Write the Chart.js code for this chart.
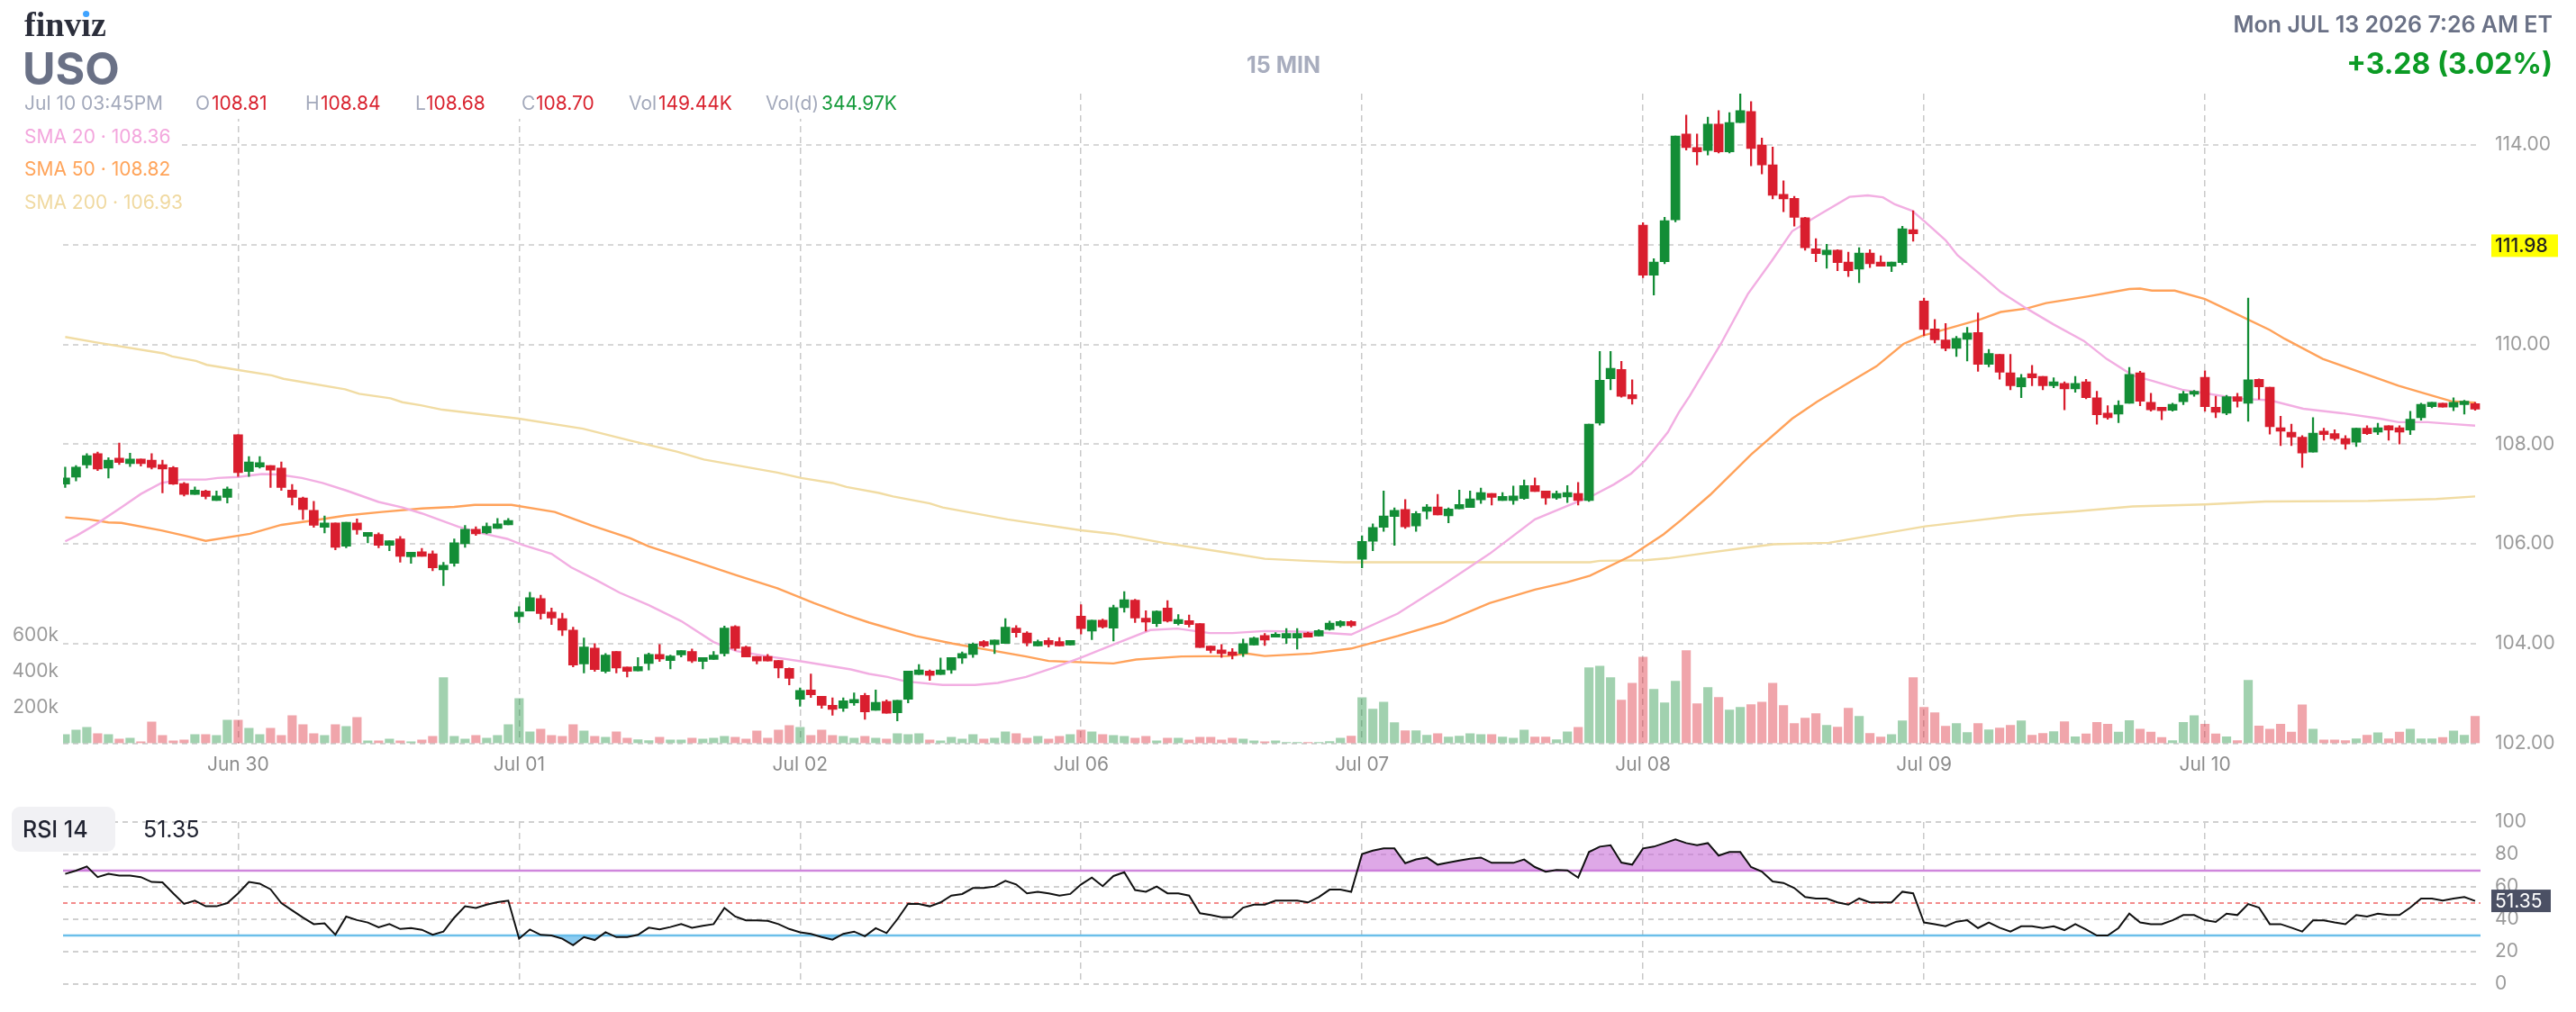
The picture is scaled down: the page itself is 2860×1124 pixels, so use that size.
<!DOCTYPE html>
<html>
<head>
<meta charset="utf-8">
<script src="https://cdn.jsdelivr.net/npm/chart.js@4.4.1/dist/chart.umd.min.js"></script>
<style>
  html, body { margin: 0; padding: 0; background: #fff; }
  #wrap { position: relative; width: 2860px; height: 1124px; overflow: hidden; background: #fff; }
  #main { position: absolute; left: 0; top: 0; }
  #rsi { position: absolute; left: 0; top: 880px; }
</style>
</head>
<body>
<div id="wrap">
  <canvas id="main" width="2860" height="880"></canvas>
  <canvas id="rsi" width="2860" height="244"></canvas>
</div>
<script>
// ============ DATA (15 min bars, USO) ============
const dayIdx    = [16, 42, 68, 94, 120, 146, 172, 198];
const dayLabels = ['Jun 30', 'Jul 01', 'Jul 02', 'Jul 06', 'Jul 07', 'Jul 08', 'Jul 09', 'Jul 10'];

const opens = [
  107.20,107.34,107.58,107.81,107.52,107.72,107.61,107.70,107.68,107.59,
  107.53,107.21,106.99,107.06,106.87,106.93,108.19,107.45,107.54,107.57,
  107.52,107.08,106.92,106.67,106.33,106.42,105.95,106.42,106.15,106.19,
  105.97,106.10,105.74,105.84,105.80,105.48,105.61,106.00,106.29,106.22,
  106.31,106.38,104.54,104.65,104.90,104.63,104.50,104.27,103.59,103.91,
  103.44,103.84,103.53,103.45,103.60,103.78,103.66,103.77,103.84,103.64,
  103.68,103.80,104.34,103.93,103.74,103.74,103.66,103.50,102.88,103.07,
  102.94,102.76,102.70,102.81,102.96,102.66,102.84,102.61,102.88,103.38,
  103.45,103.38,103.47,103.71,103.78,104.04,103.98,104.00,104.31,104.21,
  103.95,104.06,104.04,103.97,104.55,104.25,104.47,104.31,104.72,104.87,
  104.51,104.40,104.71,104.40,104.46,104.40,103.95,103.87,103.83,103.80,
  103.97,104.16,104.13,104.11,104.11,104.21,104.15,104.28,104.36,104.44,
  105.69,106.05,106.33,106.55,106.69,106.36,106.65,106.74,106.56,106.70,
  106.73,106.88,107.01,106.87,106.87,106.91,107.17,107.06,106.92,106.94,
  107.01,106.87,108.42,109.31,109.50,108.99,112.39,111.39,111.66,112.50,
  114.22,113.95,113.89,114.42,113.86,114.45,114.67,114.00,113.60,113.01,
  112.93,112.54,111.92,111.80,111.89,111.65,111.51,111.83,111.65,111.57,
  111.64,112.30,110.87,110.31,110.09,109.92,110.10,110.24,109.60,109.80,
  109.43,109.15,109.41,109.36,109.17,109.22,109.11,109.25,108.93,108.62,
  108.60,108.82,109.43,108.84,108.74,108.68,108.85,109.00,109.34,108.74,
  108.62,108.95,108.82,109.30,109.14,108.33,108.24,108.14,107.84,108.26,
  108.21,108.11,108.04,108.32,108.24,108.37,108.33,108.28,108.53,108.75,
  108.82,108.74,108.79,108.81
];
const highs = [
  107.54,107.57,107.81,107.84,107.73,108.02,107.82,107.70,107.81,107.68,
  107.55,107.23,107.14,107.08,107.06,107.14,108.19,107.75,107.75,107.57,
  107.64,107.19,106.94,106.85,106.56,106.42,106.43,106.50,106.23,106.22,
  106.06,106.15,105.83,105.91,105.86,105.63,106.10,106.37,106.34,106.42,
  106.51,106.51,104.74,105.03,104.97,104.71,104.61,104.33,104.11,104.00,
  103.80,103.84,103.53,103.72,103.81,103.98,103.77,103.86,103.89,103.72,
  103.84,104.35,104.36,103.95,103.74,103.78,103.66,103.51,103.11,103.39,
  102.94,102.91,102.91,103.01,103.00,103.07,102.87,102.86,103.45,103.58,
  103.47,103.71,103.72,103.83,104.01,104.06,104.07,104.50,104.36,104.24,
  104.07,104.11,104.12,104.06,104.78,104.47,104.49,104.77,105.04,104.89,
  104.66,104.66,104.86,104.58,104.57,104.40,103.95,103.98,103.90,104.09,
  104.13,104.20,104.22,104.30,104.30,104.23,104.28,104.45,104.46,104.46,
  106.16,106.40,107.06,106.72,106.89,106.65,106.79,106.99,106.72,107.08,
  107.06,107.12,107.01,107.03,107.16,107.28,107.32,107.06,107.06,107.17,
  107.23,108.40,109.86,109.86,109.66,109.29,112.44,111.72,112.55,114.18,
  114.60,114.22,114.56,114.69,114.65,115.03,114.87,114.14,113.96,113.28,
  112.97,112.55,112.12,112.01,111.90,111.85,111.94,111.90,111.78,111.65,
  112.37,112.68,110.93,110.50,110.42,110.16,110.34,110.63,109.90,109.80,
  109.80,109.40,109.58,109.36,109.33,109.25,109.36,109.30,109.06,108.77,
  108.87,109.54,109.46,109.02,108.74,108.82,109.06,109.08,109.47,108.96,
  108.98,109.02,110.93,109.31,109.14,108.56,108.40,108.17,108.53,108.32,
  108.29,108.17,108.32,108.37,108.42,108.37,108.37,108.66,108.82,108.84,
  108.82,108.93,108.88,108.84
];
const lows = [
  107.13,107.26,107.52,107.47,107.32,107.59,107.55,107.56,107.50,107.02,
  107.19,106.96,106.99,106.90,106.87,106.82,107.35,107.35,107.52,107.13,
  107.07,106.78,106.49,106.33,106.22,105.88,105.92,106.19,106.02,105.92,
  105.86,105.63,105.61,105.75,105.46,105.16,105.55,105.93,106.17,106.20,
  106.31,106.38,104.42,104.65,104.49,104.38,104.16,103.53,103.41,103.44,
  103.41,103.41,103.33,103.45,103.47,103.64,103.49,103.73,103.62,103.49,
  103.68,103.75,103.86,103.73,103.59,103.65,103.31,103.17,102.74,102.92,
  102.70,102.56,102.64,102.76,102.48,102.66,102.60,102.45,102.81,103.38,
  103.26,103.38,103.40,103.60,103.72,103.93,103.80,104.00,104.13,103.95,
  103.95,103.93,103.95,103.97,104.19,104.08,104.31,104.05,104.63,104.42,
  104.25,104.34,104.43,104.37,104.33,103.92,103.81,103.72,103.69,103.74,
  103.97,103.96,104.13,104.00,103.89,104.13,104.15,104.27,104.33,104.33,
  105.52,105.86,106.25,105.97,106.31,106.25,106.50,106.58,106.42,106.70,
  106.73,106.81,106.78,106.87,106.79,106.89,107.05,106.79,106.89,106.83,
  106.78,106.85,108.38,109.09,108.94,108.80,111.34,110.99,111.62,112.46,
  113.90,113.60,113.80,113.84,113.84,114.45,113.58,113.42,112.92,112.66,
  112.37,111.89,111.66,111.53,111.48,111.36,111.24,111.54,111.57,111.46,
  111.60,112.07,110.18,110.03,109.87,109.76,109.67,109.46,109.55,109.30,
  109.09,108.93,109.17,109.09,109.13,108.69,109.04,108.91,108.40,108.50,
  108.43,108.82,108.77,108.66,108.49,108.66,108.79,108.96,108.66,108.53,
  108.59,108.74,108.46,108.90,108.20,107.97,107.97,107.53,107.84,108.08,
  108.08,107.90,107.95,108.19,108.19,108.08,108.00,108.19,108.48,108.73,
  108.74,108.67,108.60,108.68
];
const closes = [
  107.32,107.54,107.77,107.50,107.68,107.63,107.70,107.61,107.53,107.50,
  107.20,106.99,107.08,106.95,106.96,107.10,107.43,107.64,107.63,107.48,
  107.13,106.93,106.69,106.37,106.42,105.93,106.43,106.28,106.23,105.97,
  106.06,105.75,105.83,105.75,105.52,105.57,106.02,106.29,106.20,106.35,
  106.40,106.47,104.63,104.92,104.60,104.51,104.27,103.57,103.93,103.48,
  103.77,103.51,103.44,103.54,103.78,103.69,103.75,103.86,103.65,103.72,
  103.77,104.31,103.90,103.73,103.65,103.65,103.51,103.30,103.06,102.97,
  102.76,102.68,102.85,102.88,102.63,102.82,102.60,102.86,103.45,103.47,
  103.36,103.47,103.72,103.80,103.99,103.95,104.07,104.33,104.22,104.01,
  104.04,103.98,103.95,104.06,104.30,104.47,104.33,104.72,104.88,104.51,
  104.43,104.65,104.45,104.48,104.38,103.92,103.86,103.80,103.76,104.00,
  104.11,104.07,104.19,104.20,104.20,104.13,104.26,104.41,104.44,104.36,
  106.05,106.33,106.56,106.67,106.34,106.61,106.74,106.58,106.70,106.79,
  106.90,107.03,106.93,106.95,106.96,107.17,107.05,106.92,107.01,107.03,
  106.87,108.40,109.28,109.52,108.96,108.91,111.39,111.65,112.48,114.18,
  113.95,113.86,114.42,113.86,114.45,114.69,113.93,113.60,112.99,112.92,
  112.55,111.94,111.82,111.89,111.64,111.48,111.83,111.62,111.57,111.65,
  112.32,112.22,110.30,110.09,109.92,110.12,110.23,109.60,109.82,109.44,
  109.17,109.33,109.33,109.17,109.25,109.11,109.22,108.93,108.59,108.53,
  108.78,109.40,108.86,108.69,108.67,108.80,109.01,109.06,108.75,108.64,
  108.95,108.86,109.29,109.15,108.35,108.26,108.14,107.82,108.22,108.19,
  108.11,108.00,108.32,108.21,108.33,108.28,108.24,108.50,108.80,108.84,
  108.74,108.84,108.86,108.70
];
// volume in thousands
const volumesK = [
  48,73,88,53,48,23,28,8,118,43,
  13,18,48,48,43,128,128,83,48,83,
  43,153,103,53,43,103,93,143,13,13,
  23,13,8,18,38,365,38,23,43,28,
  43,103,248,63,78,43,38,103,68,38,
  33,63,28,20,15,33,18,18,28,23,
  28,38,33,23,68,28,73,98,88,43,
  73,43,38,28,38,28,23,53,48,53,
  18,13,33,23,48,23,28,63,53,28,
  38,23,38,48,73,63,48,43,38,28,
  38,13,28,28,18,33,33,18,28,23,
  13,8,13,5,5,5,5,10,28,40,
  253,190,228,115,70,70,45,53,35,40,
  53,48,48,35,28,73,35,35,20,63,
  88,420,428,365,240,333,478,300,225,345,
  515,220,310,255,185,200,215,228,333,210,
  110,140,165,100,90,195,150,55,35,48,
  125,365,200,170,95,110,60,110,75,85,
  100,125,45,55,65,120,36,52,116,106,
  62,126,78,62,32,14,116,153,106,52,
  36,14,349,96,78,106,62,213,78,18,
  18,14,24,44,58,24,62,78,24,24,
  32,68,44,149.44
];

// moving averages, read as [bar index, value]
const sma20Pts = [
  [0,106.05],[1.1,106.17],[2.9,106.40],[5.2,106.73],[7,107.00],[8.9,107.22],[10.7,107.29],[13,107.29],
  [14.1,107.32],[16,107.34],[18.2,107.40],[19.7,107.39],[21.9,107.32],[23.8,107.22],[26,107.07],[29,106.84],
  [31.2,106.73],[33,106.61],[36.4,106.34],[38.6,106.21],[40.9,106.10],[42.3,105.98],[45,105.80],[46.8,105.53],
  [49,105.29],[51.3,105.02],[54,104.77],[57,104.45],[60,104.03],[62.1,103.85],[65.1,103.74],[68.5,103.63],
  [72.7,103.48],[74.4,103.39],[76.1,103.33],[77.8,103.24],[81.2,103.17],[84.2,103.17],[86.3,103.21],[88.9,103.33],
  [91.4,103.51],[94,103.72],[97,103.98],[100.4,104.27],[102.9,104.30],[105.9,104.21],[108,104.21],[111,104.25],
  [114,104.24],[116.1,104.22],[119,104.18],[123.3,104.60],[127.5,105.18],[131.8,105.80],[136,106.49],[139,106.76],
  [141.1,106.94],[143.3,107.19],[144.9,107.41],[146.2,107.67],[148.3,108.24],[149.3,108.63],[150.3,108.96],[153.2,110.01],
  [155.7,111.01],[157.9,111.67],[159.8,112.27],[162.3,112.60],[165.1,112.96],[166.8,112.99],[168.2,112.95],[169.3,112.81],
  [170.9,112.68],[172.1,112.46],[174,112.09],[175.1,111.79],[177.3,111.39],[179.1,111.05],[181.5,110.72],[184,110.40],
  [186.8,110.07],[188.9,109.71],[191.3,109.38],[193.1,109.27],[195.9,109.09],[198,109.02],[201.2,108.91],[204,108.88],
  [207.1,108.71],[210.7,108.62],[214.2,108.51],[215.9,108.44],[218.6,108.44],[221.1,108.40],[223,108.37]
];
const sma50Pts = [
  [0,106.53],[2.2,106.49],[4,106.43],[5.2,106.42],[8.9,106.27],[11.1,106.16],[13,106.06],[17.1,106.20],
  [20,106.38],[23,106.47],[26,106.57],[29.3,106.64],[33,106.71],[36,106.74],[37.9,106.78],[41.3,106.78],
  [45.3,106.64],[48.7,106.37],[52.3,106.11],[54,105.95],[57.4,105.71],[62.1,105.37],[65.9,105.11],[69.3,104.81],
  [72.3,104.57],[74.4,104.42],[78.7,104.15],[82.1,104.00],[88.9,103.74],[91,103.65],[97,103.60],[99.1,103.68],
  [103.3,103.74],[107.6,103.75],[109.3,103.80],[111,103.75],[115.3,103.80],[119,103.90],[123.3,104.15],[127.5,104.42],
  [131.8,104.81],[136,105.08],[139,105.23],[141.1,105.36],[144.9,105.76],[147.9,106.19],[149.6,106.49],[152.2,106.98],
  [156,107.79],[159.8,108.51],[162.1,108.85],[164.8,109.20],[167.6,109.56],[170.1,110.01],[171.8,110.17],[174.6,110.34],
  [177.3,110.51],[179.1,110.65],[181.5,110.72],[183.3,110.83],[187.1,110.96],[191,111.11],[192,111.12],[193.1,111.08],
  [195.2,111.08],[198,110.91],[201.2,110.58],[204,110.29],[205.4,110.11],[208.9,109.71],[215.9,109.17],[218.3,109.02],
  [220.8,108.86],[223,108.83]
];
const sma200Pts = [
  [0,110.15],[2.9,110.04],[9.1,109.82],[9.9,109.76],[12.1,109.67],[13.1,109.59],[15.9,109.49],[19.1,109.38],
  [20.2,109.31],[25.9,109.10],[27.2,109.01],[30.1,108.92],[31.2,108.84],[32.9,108.78],[34.9,108.69],[42,108.51],
  [47.9,108.31],[52.3,108.07],[56.6,107.85],[59.1,107.69],[65.9,107.43],[68.1,107.32],[71,107.22],[72.3,107.14],
  [75.3,107.02],[76.6,106.95],[80,106.81],[81.2,106.73],[87.2,106.49],[94,106.27],[97,106.20],[101.6,106.02],
  [107.6,105.82],[111,105.70],[114.8,105.66],[118.3,105.63],[141.1,105.63],[142,105.66],[146.2,105.67],[148.3,105.71],
  [151.3,105.80],[155.1,105.91],[158.1,105.99],[163.2,106.02],[172.1,106.35],[176,106.45],[180.7,106.57],[186,106.65],
  [191.3,106.75],[198,106.79],[203.6,106.85],[213.1,106.86],[219.4,106.90],[223,106.95]
];

const rsi14 = [
  68,70,72.6,66,68,67,67,66,63,62.8,
  56,49.5,51.5,48,48,50,56,63,62,58.5,
  50,45.5,41,37,37.5,30.5,41.7,39.5,38,35,
  37,34,34.6,33.5,30.5,32.4,41,48,47,49,
  50.5,51.5,28,33.7,30.4,30,28,24,29,27.2,
  32,29,29,30.4,34.8,33.7,35.2,37,34.8,36,
  37,47,41.7,39.3,39.3,39,37,34,32,31,
  29,27.4,31,32.4,29.5,34.5,31.5,40,49.6,49.4,
  48,50.4,54.6,55.6,59.3,59.3,60.2,63.7,61.5,56,
  57,56,54.6,55.6,61.5,65.7,60.4,66.7,69,58,
  57,60.2,56,56,54.6,43.7,42.6,41.3,41.3,47.2,
  49,49,51.5,51.5,51.5,50.4,53.7,58.3,58.3,56.9,
  80.2,82.4,83.7,83.7,74.6,76.9,78.1,73.7,75,76.3,
  77.4,78.1,74.8,74.8,74.8,76.9,72.2,69.3,70.4,70.2,
  65.7,81.5,84.8,85.7,75,73.7,83.7,84.8,87,89.3,
  87,85.7,87,79.3,81.5,81.5,72.2,69.4,63.3,62.4,
  59.3,53.7,52.8,52.8,50.4,49,52.8,50.4,50.4,50.4,
  57,56,38,37,35.7,38.5,39.4,34.6,38,34.8,
  32.4,35.7,35.7,34.6,35.7,33.3,37,33.7,30,30,
  34.6,43.5,38,37,37,39.4,42.6,42.6,39.4,38.3,
  43.5,42.6,49.4,47.2,37,37,34.8,32.4,39.3,39.3,
  38,37,42.6,41.7,43.5,42.6,42.6,47.2,52.8,52.8,
  51.5,52.8,53.7,51.35
];

const volTicks = [200000, 400000, 600000];

// ============ STYLE ============
const FONT = 'Inter, "Noto Sans", sans-serif';
const UP = '#138d36', DOWN = '#d91e2e';
const VOL_UP = 'rgba(19,141,54,0.40)', VOL_DOWN = 'rgba(217,30,45,0.40)';
const AXIS_GRAY = '#9b9b9b';

const X_MIN = -0.2, X_MAX = 223.5;

const isUp = i => closes[i] >= opens[i];
const idx = opens.map((_, i) => i);

function txt(ctx, s, x, y, color, size, weight, align) {
    ctx.font = `${weight || 400} ${size}px ${FONT}`;
    ctx.fillStyle = color;
    ctx.textAlign = align || 'left';
    ctx.textBaseline = 'middle';
    ctx.fillText(s, x, y);
}

// header, legend, yellow price tag
const headerPlugin = {
    id: 'header',
    afterDraw(chart) {
        const c = chart.ctx;
        c.save();

        // mask behind the OHLC row
        c.fillStyle = '#fff';
        c.fillRect(60, 100, 955, 32);

        // logo
        c.font = 'bold 38px "Liberation Serif", "DejaVu Serif", serif';
        c.fillStyle = '#2b2e3b';
        c.textAlign = 'left';
        c.textBaseline = 'alphabetic';
        c.fillText('finviz', 27, 40);
        const dotX = 27 + c.measureText('finv').width + c.measureText('i').width / 2;
        c.fillStyle = '#fff';
        c.beginPath(); c.arc(dotX, 15.5, 5, 0, Math.PI * 2); c.fill();
        c.fillStyle = '#3fa3ff';
        c.beginPath(); c.arc(dotX, 15.5, 3.6, 0, Math.PI * 2); c.fill();

        c.font = `700 50px ${FONT}`;
        c.fillStyle = '#6a7186';
        c.fillText('USO', 25, 94);

        txt(c, '15 MIN', 1425, 73, '#a8adbe', 25, 700, 'center');
        txt(c, 'Mon JUL 13 2026 7:26 AM ET', 2834, 28, '#6a7186', 25, 600, 'right');
        txt(c, '+3.28 (3.02%)', 2834, 72, '#0c9b25', 32, 700, 'right');

        // OHLC row
        const gray = '#a3a9bb', red = '#d9232f', green = '#149a3a';
        const row = [
            [27, 'Jul 10 03:45PM', gray],
            [217, 'O', gray], [235, '108.81', red],
            [339, 'H', gray], [356, '108.84', red],
            [461, 'L', gray], [473, '108.68', red],
            [579, 'C', gray], [595, '108.70', red],
            [698, 'Vol', gray], [731, '149.44K', red],
            [850, 'Vol(d)', gray], [912, '344.97K', green]
        ];
        row.forEach(([x, s, col]) => txt(c, s, x, 116, col, 21, 400));

        // SMA legend
        const legend = [
            ['SMA 20 \u00b7 108.36', '#f3a6dd', 153],
            ['SMA 50 \u00b7 108.82', '#ffa45a', 189],
            ['SMA 200 \u00b7 106.93', '#f0d9a0', 226]
        ];
        legend.forEach(([s, col, y]) => {
            c.font = `400 21px ${FONT}`;
            const w = c.measureText(s).width;
            c.fillStyle = '#fff';
            c.fillRect(20, y - 14, w + 16, 28);
            txt(c, s, 27, y, col, 21, 400);
        });

        // current price tag
        const py = chart.scales.y.getPixelForValue(111.98);
        c.fillStyle = '#ffff00';
        c.fillRect(2766, py - 12.5, 74, 25);
        txt(c, '111.98', 2770, py + 1, '#222', 21, 500);

        c.restore();
    }
};

// ============ PRICE + VOLUME CHART ============
new Chart(document.getElementById('main'), {
    type: 'bar',
    data: {
        datasets: [
            {
                type: 'bar',
                data: idx.map(i => ({ x: i, y: volumesK[i] * 1000 })),
                yAxisID: 'yv',
                backgroundColor: ctx => isUp(ctx.dataIndex) ? VOL_UP : VOL_DOWN,
                barThickness: 9.5,
                grouped: false,
                borderWidth: 0,
                order: 6
            },
            {
                type: 'line',
                data: sma200Pts.map(([x, y]) => ({ x, y })),
                yAxisID: 'y',
                borderColor: '#f1dca3',
                borderWidth: 2.4,
                pointRadius: 0,
                order: 5
            },
            {
                type: 'line',
                data: sma50Pts.map(([x, y]) => ({ x, y })),
                yAxisID: 'y',
                borderColor: '#ffa25a',
                borderWidth: 2.4,
                pointRadius: 0,
                order: 4
            },
            {
                type: 'line',
                data: sma20Pts.map(([x, y]) => ({ x, y })),
                yAxisID: 'y',
                borderColor: '#f2aee2',
                borderWidth: 2.4,
                pointRadius: 0,
                order: 3
            },
            {
                type: 'bar',
                data: idx.map(i => ({ x: i, y: [lows[i], highs[i]] })),
                yAxisID: 'y',
                backgroundColor: ctx => isUp(ctx.dataIndex) ? UP : DOWN,
                barThickness: 1.6,
                grouped: false,
                borderWidth: 0,
                order: 2
            },
            {
                type: 'bar',
                data: idx.map(i => ({ x: i, y: [opens[i], closes[i]] })),
                yAxisID: 'y',
                backgroundColor: ctx => isUp(ctx.dataIndex) ? UP : DOWN,
                barThickness: 10,
                minBarLength: 2,
                grouped: false,
                borderWidth: 0,
                order: 1
            }
        ]
    },
    options: {
        responsive: false,
        animation: false,
        devicePixelRatio: 1,
        events: [],
        layout: { padding: { top: 104, left: 0, right: 0, bottom: 0 } },
        plugins: { legend: { display: false }, tooltip: { enabled: false } },
        scales: {
            x: {
                type: 'linear',
                min: X_MIN,
                max: X_MAX,
                offset: false,
                grid: { color: '#c9c9c9', lineWidth: 1.5, drawTicks: false, offset: false },
                border: { display: false, dash: [7, 5] },
                afterBuildTicks: s => { s.ticks = dayIdx.map(v => ({ value: v })); },
                ticks: {
                    autoSkip: false, maxRotation: 0, padding: 12,
                    color: '#8c8c8c', font: { family: FONT, size: 21 },
                    callback: v => dayLabels[dayIdx.indexOf(v)]
                },
                afterFit: s => { s.height = 54.5; }
            },
            y: {
                position: 'right',
                min: 102,
                max: 115.03,
                grid: { color: '#d7d7d7', lineWidth: 2, drawTicks: false },
                border: { display: false, dash: [6, 5] },
                ticks: {
                    stepSize: 2, includeBounds: false, padding: 16,
                    color: AXIS_GRAY, font: { family: FONT, size: 21 },
                    callback: v => Math.abs(v - 112) < 0.01 ? '' : v.toFixed(2)
                },
                afterFit: s => { s.width = 106; }
            },
            yv: {
                position: 'left',
                min: 0,
                max: 3607500,
                grid: { display: false, drawTicks: false },
                border: { display: false },
                afterBuildTicks: s => { s.ticks = volTicks.map(v => ({ value: v })); },
                ticks: {
                    padding: 5, color: AXIS_GRAY, font: { family: FONT, size: 21 },
                    callback: v => (v / 1000) + 'k'
                },
                afterFit: s => { s.width = 70; }
            }
        }
    },
    plugins: [headerPlugin]
});

// ============ RSI ============
const rsiPlugin = {
    id: 'rsiDeco',
    beforeDatasetsDraw(chart) {
        const c = chart.ctx, a = chart.chartArea, y = chart.scales.y;
        const line = (v, col, w, dash) => {
            const py = y.getPixelForValue(v);
            c.save();
            c.strokeStyle = col; c.lineWidth = w; c.setLineDash(dash);
            c.beginPath(); c.moveTo(a.left, py); c.lineTo(a.right, py); c.stroke();
            c.restore();
        };
        line(70, '#cf86dc', 2.5, []);
        line(50, '#f38b8b', 2, [5, 4]);
        line(30, '#6bbfe9', 2.5, []);
    },
    afterDraw(chart) {
        const c = chart.ctx, y = chart.scales.y;
        c.save();
        c.fillStyle = '#f1f1f4';
        c.beginPath(); c.roundRect(13, 16, 115, 50, 9); c.fill();
        txt(c, 'RSI 14', 25, 42, '#1f2230', 25, 500);
        txt(c, '51.35', 159, 42, '#1f2230', 25, 400);

        const py = y.getPixelForValue(rsi14[rsi14.length - 1]);
        c.fillStyle = '#4b5064';
        c.fillRect(2766, py - 12.5, 66, 25);
        txt(c, '51.35', 2770, py + 1, '#fff', 21, 400);
        c.restore();
    }
};

const rsiPts = idx.map(i => ({ x: i, y: rsi14[i] }));

new Chart(document.getElementById('rsi'), {
    type: 'line',
    data: {
        datasets: [
            {
                data: rsiPts,
                borderColor: '#111',
                borderWidth: 2,
                pointRadius: 0,
                fill: { target: { value: 70 }, above: 'rgba(200,110,215,0.6)', below: 'rgba(0,0,0,0)' },
                order: 0
            },
            {
                data: rsiPts,
                borderColor: 'rgba(0,0,0,0)',
                borderWidth: 0,
                pointRadius: 0,
                fill: { target: { value: 30 }, above: 'rgba(0,0,0,0)', below: 'rgba(100,185,235,0.75)' },
                order: 1
            }
        ]
    },
    options: {
        responsive: false,
        animation: false,
        devicePixelRatio: 1,
        events: [],
        layout: { padding: { top: 33, left: 70, right: 0, bottom: 0 } },
        plugins: { legend: { display: false }, tooltip: { enabled: false } },
        scales: {
            x: {
                type: 'linear',
                min: X_MIN,
                max: X_MAX,
                grid: { color: '#c9c9c9', lineWidth: 1.5, drawTicks: false },
                border: { display: false, dash: [7, 5] },
                afterBuildTicks: s => { s.ticks = dayIdx.map(v => ({ value: v })); },
                ticks: { display: false },
                afterFit: s => { s.height = 31; }
            },
            y: {
                position: 'right',
                min: 0,
                max: 100,
                grid: {
                    color: ctx => [30, 50, 70].includes(ctx.tick.value) ? 'rgba(0,0,0,0)' : '#d0d0d0',
                    lineWidth: 2,
                    drawTicks: false
                },
                border: { display: false, dash: [6, 5] },
                ticks: {
                    stepSize: 10, padding: 16,
                    color: AXIS_GRAY, font: { family: FONT, size: 21 },
                    callback: v => v % 20 === 0 ? String(v) : ''
                },
                afterFit: s => { s.width = 106; }
            }
        }
    },
    plugins: [rsiPlugin]
});
</script>
</body>
</html>
